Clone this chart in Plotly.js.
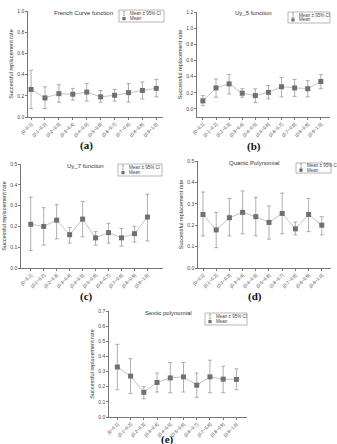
<!DOCTYPE html>
<html>
<head>
<meta charset="utf-8">
<script src="https://cdn.plot.ly/plotly-3.0.1.min.js"></script>
<style>html,body{margin:0;padding:0;background:#fff;}#chart{width:337px;height:444px;}</style>
</head>
<body>
<div id="chart"></div>
<script>
// ---- data ----
const categories = ['(0~0.1]','(0.1~0.2]','(0.2~0.3]','(0.3~0.4]','(0.4~0.5]','(0.5~0.6]','(0.6~0.7]','(0.7~0.8]','(0.8~0.9]','(0.9~1.0]'];

const titles = ['French Curve function','Uy_5 function','Uy_7 function','Quartic Polynomial','Sextic polynomial'];
const captions = ['(a)','(b)','(c)','(d)','(e)'];
const legendNames = ['Mean \u00B1 95% CI','Mean'];
const yTitle = 'Successful replacement rate';

const aMean = [0.26, 0.18, 0.22, 0.215, 0.235, 0.19, 0.205, 0.23, 0.25, 0.27];
const aLow  = [0.08, 0.08, 0.14, 0.16, 0.15, 0.14, 0.15, 0.14, 0.17, 0.19];
const aHigh = [0.44, 0.285, 0.305, 0.27, 0.315, 0.25, 0.26, 0.315, 0.33, 0.355];

const bMean = [0.10, 0.26, 0.31, 0.195, 0.165, 0.205, 0.275, 0.26, 0.25, 0.34];
const bLow  = [0.04, 0.145, 0.185, 0.145, 0.08, 0.125, 0.15, 0.155, 0.15, 0.25];
const bHigh = [0.165, 0.37, 0.425, 0.25, 0.25, 0.29, 0.39, 0.365, 0.35, 0.425];

const cMean = [0.21, 0.20, 0.23, 0.16, 0.235, 0.145, 0.17, 0.145, 0.165, 0.245];
const cLow  = [0.085, 0.11, 0.14, 0.12, 0.15, 0.11, 0.12, 0.105, 0.125, 0.13];
const cHigh = [0.34, 0.29, 0.305, 0.195, 0.32, 0.175, 0.215, 0.19, 0.20, 0.355];

const dMean = [0.25, 0.178, 0.235, 0.26, 0.24, 0.213, 0.255, 0.183, 0.25, 0.20];
const dLow  = [0.15, 0.095, 0.15, 0.16, 0.15, 0.135, 0.16, 0.155, 0.17, 0.155];
const dHigh = [0.355, 0.26, 0.325, 0.36, 0.33, 0.29, 0.35, 0.215, 0.325, 0.24];

const eMean = [0.33, 0.27, 0.163, 0.228, 0.258, 0.265, 0.21, 0.265, 0.25, 0.248];
const eLow  = [0.18, 0.155, 0.12, 0.165, 0.16, 0.165, 0.13, 0.16, 0.16, 0.18];
const eHigh = [0.48, 0.385, 0.20, 0.29, 0.36, 0.36, 0.29, 0.375, 0.335, 0.318];

const yRanges = [[0,1.0],[-0.1,1.2],[0,0.5],[0,0.5],[0,0.7]];
const yDticks = [0.2,0.2,0.1,0.1,0.1];

// ---- layout helpers (pixel boxes) ----
const W = 337, H = 444;
const px = v => v / W;
const py = v => 1 - v / H;

const series = [
  {mean:aMean, low:aLow, high:aHigh},
  {mean:bMean, low:bLow, high:bHigh},
  {mean:cMean, low:cLow, high:cHigh},
  {mean:dMean, low:dLow, high:dHigh},
  {mean:eMean, low:eLow, high:eHigh}
];
// plot boxes: [left, right, top, bottom] in px
const boxes = [
  [28, 163, 11, 117],
  [197, 330, 12, 117],
  [21, 163, 164, 268],
  [198, 331, 161, 268],
  [109, 247, 311, 417]
];
const xRanges = [[-0.22,9.48],[-0.45,9.7],[-0.75,10.2],[-0.38,9.7],[-0.63,9.8]];
const titlePos = [[83,13],[253,13],[85,166],[254,163],[168,313]];
const capPos = [[86,145],[254,146],[86,296],[255,296],[167,439]];
const legBoxes = [
  [119,164,10,22],
  [288,330,12,23],
  [118,162,164,176],
  [296,331,163,173],
  [205,247,313,325]
];

const traces = [];
const layout = {
  width: W, height: H,
  margin: {l:0, r:0, t:0, b:0},
  paper_bgcolor: '#fff', plot_bgcolor: '#fff',
  showlegend: false,
  font: {family: 'Liberation Sans, Arial, sans-serif', size: 5, color: '#444'},
  annotations: [], shapes: []
};

series.forEach((s, i) => {
  const xa = i === 0 ? 'x' : 'x' + (i + 1);
  const ya = i === 0 ? 'y' : 'y' + (i + 1);
  const xk = i === 0 ? 'xaxis' : 'xaxis' + (i + 1);
  const yk = i === 0 ? 'yaxis' : 'yaxis' + (i + 1);
  const b = boxes[i];
  // connecting line
  traces.push({
    x: categories, y: s.mean, xaxis: xa, yaxis: ya, type: 'scatter', mode: 'lines',
    line: {color: '#c4c4c4', width: 1}, hoverinfo: 'skip'
  });
  // error bars (CI)
  traces.push({
    x: categories, y: s.mean, xaxis: xa, yaxis: ya, type: 'scatter', mode: 'markers',
    name: legendNames[0],
    marker: {size: 1, color: 'rgba(0,0,0,0)'},
    error_y: {type: 'data', symmetric: false,
      array: s.high.map((h, k) => h - s.mean[k]),
      arrayminus: s.mean.map((m, k) => m - s.low[k]),
      color: '#9a9a9a', thickness: 0.8, width: 2}
  });
  // means
  traces.push({
    x: categories, y: s.mean, xaxis: xa, yaxis: ya, type: 'scatter', mode: 'markers',
    name: legendNames[1],
    marker: {symbol: 'square', size: 5, color: '#707070', line: {width: 0}}
  });

  layout[xk] = {
    domain: [px(b[0]), px(b[1])], anchor: ya, type: 'category',
    range: xRanges[i], showgrid: false, zeroline: false,
    showline: true, linecolor: '#555', linewidth: 0.8,
    ticks: 'outside', ticklen: 2, tickwidth: 0.8, tickcolor: '#555',
    tickangle: -45, tickfont: {size: 4.5, color: '#444'}, automargin: false
  };
  layout[yk] = {
    domain: [py(b[3]), py(b[2])], anchor: xa,
    range: yRanges[i], dtick: yDticks[i], tick0: 0, tickformat: '.1f',
    showgrid: false, zeroline: false,
    showline: true, linecolor: '#555', linewidth: 0.8,
    ticks: 'outside', ticklen: 2, tickwidth: 0.8, tickcolor: '#555',
    tickfont: {size: 5, color: '#444'}, automargin: false,
    title: {text: yTitle, font: {size: 5.5, color: '#333'}, standoff: 3}
  };

  // panel title
  layout.annotations.push({
    xref: 'paper', yref: 'paper', x: px(titlePos[i][0]), y: py(titlePos[i][1]),
    text: titles[i], showarrow: false, xanchor: 'center', yanchor: 'middle',
    font: {size: 6, color: '#333'}
  });
  // caption
  layout.annotations.push({
    xref: 'paper', yref: 'paper', x: px(capPos[i][0]), y: py(capPos[i][1]),
    text: '<b>' + captions[i] + '</b>', showarrow: false, xanchor: 'center', yanchor: 'middle',
    font: {family: 'Liberation Serif, Times New Roman, serif', size: 11, color: '#111'}
  });

  // legend box (decoration)
  const L = legBoxes[i];
  const h = L[3] - L[2];
  const r1 = L[2] + h * 0.3, r2 = L[2] + h * 0.72;
  const ix = L[0] + 5;
  layout.shapes.push({type: 'rect', xref: 'paper', yref: 'paper',
    x0: px(L[0]), x1: px(L[1]), y0: py(L[3]), y1: py(L[2]),
    line: {color: '#888', width: 0.6}, fillcolor: 'rgba(255,255,255,0)'});
  // error bar icon
  layout.shapes.push({type: 'line', xref: 'paper', yref: 'paper',
    x0: px(ix), x1: px(ix), y0: py(r1 + 2.2), y1: py(r1 - 2.2), line: {color: '#9a9a9a', width: 0.7}});
  layout.shapes.push({type: 'line', xref: 'paper', yref: 'paper',
    x0: px(ix - 1.2), x1: px(ix + 1.2), y0: py(r1 - 2.2), y1: py(r1 - 2.2), line: {color: '#9a9a9a', width: 0.7}});
  layout.shapes.push({type: 'line', xref: 'paper', yref: 'paper',
    x0: px(ix - 1.2), x1: px(ix + 1.2), y0: py(r1 + 2.2), y1: py(r1 + 2.2), line: {color: '#9a9a9a', width: 0.7}});
  // marker icon
  layout.shapes.push({type: 'rect', xref: 'paper', yref: 'paper',
    x0: px(ix - 1.6), x1: px(ix + 1.6), y0: py(r2 + 1.6), y1: py(r2 - 1.6),
    line: {width: 0}, fillcolor: '#707070'});
  layout.annotations.push({xref: 'paper', yref: 'paper', x: px(ix + 4), y: py(r1),
    text: legendNames[0], showarrow: false, xanchor: 'left', yanchor: 'middle',
    font: {size: 4.5, color: '#444'}});
  layout.annotations.push({xref: 'paper', yref: 'paper', x: px(ix + 4), y: py(r2),
    text: legendNames[1], showarrow: false, xanchor: 'left', yanchor: 'middle',
    font: {size: 4.5, color: '#444'}});
});

Plotly.newPlot('chart', traces, layout, {staticPlot: true, displayModeBar: false});
</script>
</body>
</html>
